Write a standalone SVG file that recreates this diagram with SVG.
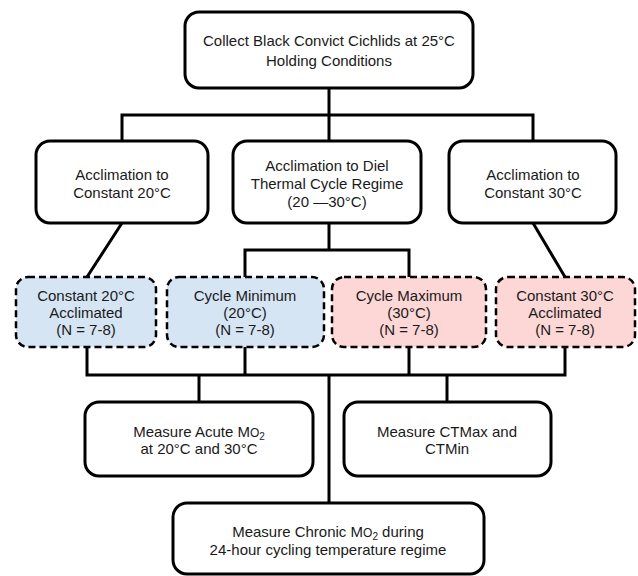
<svg xmlns="http://www.w3.org/2000/svg" width="638" height="576" viewBox="0 0 638 576">
<style>
.box{fill:#fff;stroke:#000;stroke-width:3}
.blue{fill:#d6e5f4;stroke:#000;stroke-width:2.5;stroke-dasharray:7 4}
.pink{fill:#fdd6d6;stroke:#000;stroke-width:2.5;stroke-dasharray:7 4}
text{font-family:"Liberation Sans",Arial,sans-serif;font-size:15px;fill:#1a1a1a;text-anchor:middle}
.sm{font-size:12px}
.sub{font-size:10px}
#connectors path{fill:none;stroke:#000;stroke-width:3}
</style>
<rect width="638" height="576" fill="#fff"/>
<g id="connectors">
<path d="M329 88V115M122 115H533M122 113.5V141M329 115V141M533 113.5V141"/>
<path d="M122 223L87 277M533 223L565 277"/>
<path d="M329 223V250M245 250H409M245 248.5V277M409 248.5V277"/>
<path d="M87 347V375M245 347V375M409 347V375M565 347V375M85.5 375H566.5"/>
<path d="M199 375V402M447 375V402M329 375V503"/>
</g>
<g id="collect">
<rect class="box" x="185" y="12" width="288" height="76" rx="14"/>
<text x="329" y="46">Collect Black Convict Cichlids at 25°C</text>
<text x="329" y="66">Holding Conditions</text>
</g>
<g id="accl20">
<rect class="box" x="36" y="141" width="172" height="82" rx="14"/>
<text x="122" y="180">Acclimation to</text>
<text x="122" y="198">Constant 20°C</text>
</g>
<g id="acclcycle">
<rect class="box" x="233" y="141" width="188" height="82" rx="14"/>
<text x="327" y="171">Acclimation to Diel</text>
<text x="327" y="189">Thermal Cycle Regime</text>
<text x="327" y="207">(20 —30°C)</text>
</g>
<g id="accl30">
<rect class="box" x="449" y="141" width="167" height="82" rx="14"/>
<text x="533" y="180">Acclimation to</text>
<text x="533" y="198">Constant 30°C</text>
</g>
<g id="const20">
<rect class="blue" x="16" y="277" width="140" height="70" rx="12"/>
<text x="86" y="301">Constant 20°C</text>
<text x="86" y="318">Acclimated</text>
<text x="86" y="335">(N = 7-8)</text>
</g>
<g id="cyclemin">
<rect class="blue" x="167" y="277" width="157" height="70" rx="12"/>
<text x="245" y="301">Cycle Minimum</text>
<text x="245" y="318">(20°C)</text>
<text x="245" y="335">(N = 7-8)</text>
</g>
<g id="cyclemax">
<rect class="pink" x="332" y="277" width="154" height="70" rx="12"/>
<text x="409" y="301">Cycle Maximum</text>
<text x="409" y="318">(30°C)</text>
<text x="409" y="335">(N = 7-8)</text>
</g>
<g id="const30">
<rect class="pink" x="496" y="277" width="139" height="70" rx="12"/>
<text x="565" y="301">Constant 30°C</text>
<text x="565" y="318">Acclimated</text>
<text x="565" y="335">(N = 7-8)</text>
</g>
<g id="acute">
<rect class="box" x="85" y="402" width="228" height="74" rx="14"/>
<text x="199" y="437">Measure Acute M<tspan class="sm">O</tspan><tspan class="sub" dy="3">2</tspan></text>
<text x="199" y="454">at 20°C and 30°C</text>
</g>
<g id="ctmax">
<rect class="box" x="344" y="402" width="207" height="74" rx="14"/>
<text x="447" y="437">Measure CTMax and</text>
<text x="447" y="454">CTMin</text>
</g>
<g id="chronic">
<rect class="box" x="173" y="503" width="311" height="71" rx="14"/>
<text x="328" y="537">Measure Chronic M<tspan class="sm">O</tspan><tspan class="sub" dy="3">2</tspan><tspan dy="-3"> during</tspan></text>
<text x="328" y="555">24-hour cycling temperature regime</text>
</g>
</svg>
